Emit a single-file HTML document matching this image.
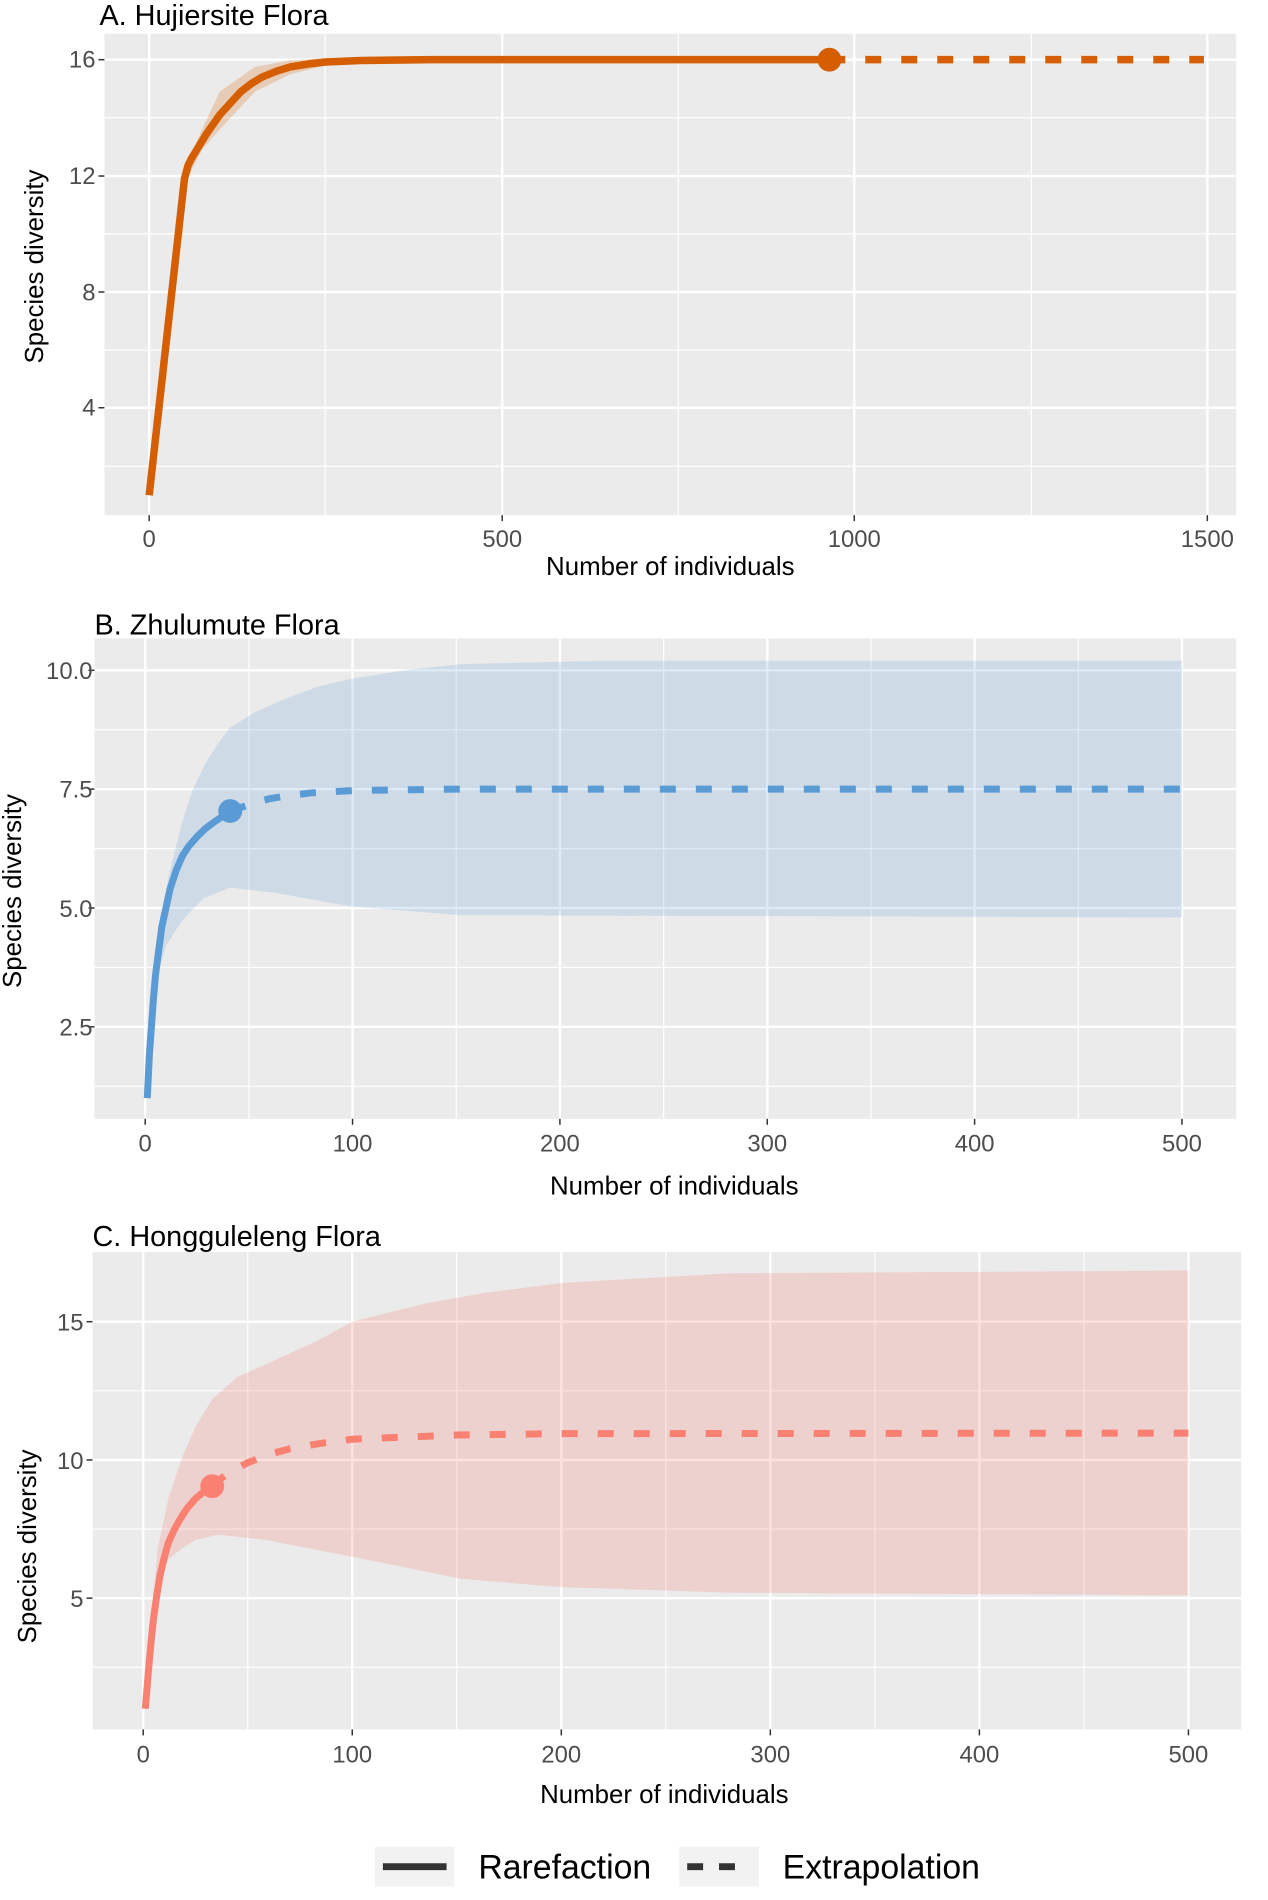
<!DOCTYPE html>
<html><head><meta charset="utf-8"><style>
body{margin:0;background:#fff;}
svg{display:block;font-family:"Liberation Sans",sans-serif;}
.tk{fill:#4D4D4D;font-size:24px;}
.at{fill:#000;font-size:26px;}
.ti{fill:#000;font-size:29px;}
.mj{stroke:#fff;stroke-width:2.4;}
.mn{stroke:#fff;stroke-width:1.2;}
.tm{stroke:#333;stroke-width:1.5;}
</style></head><body>
<svg width="1268" height="1900" viewBox="0 0 1268 1900">
<g transform="scale(0.9945)">
<!-- Panel A -->
<text class="ti" x="100" y="25">A. Hujiersite Flora</text>
<rect x="105" y="34" width="1138" height="484" fill="#EBEBEB"/>
<g class="mn"><line x1="105" x2="1243" y1="118.4" y2="118.4"/><line x1="105" x2="1243" y1="235.2" y2="235.2"/><line x1="105" x2="1243" y1="352" y2="352"/><line x1="105" x2="1243" y1="468.8" y2="468.8"/>
<line x1="327" x2="327" y1="34" y2="518"/><line x1="682" x2="682" y1="34" y2="518"/><line x1="1037" x2="1037" y1="34" y2="518"/></g>
<g class="mj"><line x1="105" x2="1243" y1="60" y2="60"/><line x1="105" x2="1243" y1="177" y2="177"/><line x1="105" x2="1243" y1="293.6" y2="293.6"/><line x1="105" x2="1243" y1="410" y2="410"/>
<line x1="150" x2="150" y1="34" y2="518"/><line x1="505" x2="505" y1="34" y2="518"/><line x1="859" x2="859" y1="34" y2="518"/><line x1="1214" x2="1214" y1="34" y2="518"/></g>
<g class="tm"><line x1="99" x2="105" y1="60" y2="60"/><line x1="99" x2="105" y1="177" y2="177"/><line x1="99" x2="105" y1="293.6" y2="293.6"/><line x1="99" x2="105" y1="410" y2="410"/>
<line x1="150" x2="150" y1="518" y2="524"/><line x1="505" x2="505" y1="518" y2="524"/><line x1="859" x2="859" y1="518" y2="524"/><line x1="1214" x2="1214" y1="518" y2="524"/></g>
<g class="tk" text-anchor="end"><text x="96" y="68">16</text><text x="96" y="185">12</text><text x="96" y="302">8</text><text x="96" y="418">4</text></g>
<g class="tk" text-anchor="middle"><text x="150" y="550">0</text><text x="505" y="550">500</text><text x="859" y="550">1000</text><text x="1214" y="550">1500</text></g>
<text class="at" text-anchor="middle" x="674" y="578">Number of individuals</text>
<text class="at" text-anchor="middle" transform="translate(43,268) rotate(-90)">Species diversity</text>
<g transform="translate(150,527.2) scale(0.7094,-29.2)">
<path fill="rgba(213,94,0,0.22)" d="M50,11.7 L50,12.2 L75,13.6 L100,14.9 L150,15.75 L200,15.98 L250,16.05 L350,16.03 L500,16 L964,16 L964,16 L500,15.99 L350,15.95 L300,15.93 L250,15.8 L200,15.5 L150,14.9 L100,13.6 L75,12.9 Z"/>
<path fill="none" stroke="#D55E00" stroke-width="7.5" vector-effect="non-scaling-stroke" stroke-linejoin="round" d="M0,1 L50,11.9 L55,12.35 L60,12.6 L70,13.0 L80,13.4 L90,13.75 L100,14.1 L115,14.5 L130,14.9 L145,15.18 L160,15.4 L180,15.6 L200,15.75 L225,15.85 L250,15.92 L300,15.97 L400,16 L964,16"/>
<path fill="none" stroke="#D55E00" stroke-width="7.5" vector-effect="non-scaling-stroke" stroke-dasharray="16 20" d="M964,16 L1495,16"/>
</g>
<circle cx="834" cy="60" r="12" fill="#D55E00"/>

<!-- Panel B -->
<text class="ti" x="95" y="638">B. Zhulumute Flora</text>
<rect x="95" y="642" width="1148" height="483" fill="#EBEBEB"/>
<g class="mn"><line x1="95" x2="1243" y1="733.8" y2="733.8"/><line x1="95" x2="1243" y1="853.3" y2="853.3"/><line x1="95" x2="1243" y1="972.8" y2="972.8"/><line x1="95" x2="1243" y1="1092.3" y2="1092.3"/>
<line x1="250.3" x2="250.3" y1="642" y2="1125"/><line x1="458.8" x2="458.8" y1="642" y2="1125"/><line x1="667.3" x2="667.3" y1="642" y2="1125"/><line x1="875.8" x2="875.8" y1="642" y2="1125"/><line x1="1084.3" x2="1084.3" y1="642" y2="1125"/></g>
<g class="mj"><line x1="95" x2="1243" y1="674" y2="674"/><line x1="95" x2="1243" y1="793.5" y2="793.5"/><line x1="95" x2="1243" y1="913" y2="913"/><line x1="95" x2="1243" y1="1032.5" y2="1032.5"/>
<line x1="146" x2="146" y1="642" y2="1125"/><line x1="354.5" x2="354.5" y1="642" y2="1125"/><line x1="563" x2="563" y1="642" y2="1125"/><line x1="771.5" x2="771.5" y1="642" y2="1125"/><line x1="980" x2="980" y1="642" y2="1125"/><line x1="1188.5" x2="1188.5" y1="642" y2="1125"/></g>
<g class="tm"><line x1="89" x2="95" y1="674" y2="674"/><line x1="89" x2="95" y1="793.5" y2="793.5"/><line x1="89" x2="95" y1="913" y2="913"/><line x1="89" x2="95" y1="1032.5" y2="1032.5"/>
<line x1="146" x2="146" y1="1125" y2="1131"/><line x1="354.5" x2="354.5" y1="1125" y2="1131"/><line x1="563" x2="563" y1="1125" y2="1131"/><line x1="771.5" x2="771.5" y1="1125" y2="1131"/><line x1="980" x2="980" y1="1125" y2="1131"/><line x1="1188.5" x2="1188.5" y1="1125" y2="1131"/></g>
<g class="tk" text-anchor="end"><text x="93" y="683">10.0</text><text x="93" y="802">7.5</text><text x="93" y="922">5.0</text><text x="93" y="1041">2.5</text></g>
<g class="tk" text-anchor="middle"><text x="146" y="1158">0</text><text x="354.5" y="1158">100</text><text x="563" y="1158">200</text><text x="771.5" y="1158">300</text><text x="980" y="1158">400</text><text x="1188.5" y="1158">500</text></g>
<text class="at" text-anchor="middle" x="678" y="1201">Number of individuals</text>
<text class="at" text-anchor="middle" transform="translate(21,896) rotate(-90)">Species diversity</text>
<g transform="translate(146,1152) scale(2.085,-47.8)">
<path fill="rgba(91,155,213,0.2)" d="M1,1 L4.7,3.7 L8,4.9 L11.7,5.74 L17.5,6.76 L23,7.5 L29,8.04 L35,8.45 L41,8.8 L53,9.12 L67,9.39 L83,9.65 L99,9.82 L125,10.0 L152,10.13 L222,10.2 L500,10.2 L500,4.8 L152,4.85 L99,5.03 L64,5.31 L41,5.43 L28,5.2 L17.5,4.72 L10,4.2 L4.7,3.44 Z"/>
<path fill="none" stroke="#5B9BD5" stroke-width="7" vector-effect="non-scaling-stroke" stroke-linejoin="round" d="M1,1 L2,1.9 L3,2.5 L4,3.1 L5,3.6 L6.5,4.1 L8,4.6 L10,5.0 L12,5.4 L15,5.8 L18,6.1 L21,6.3 L25,6.5 L29,6.67 L33,6.8 L37,6.92 L41,7.04"/>
<path fill="none" stroke="#5B9BD5" stroke-width="7" vector-effect="non-scaling-stroke" stroke-dasharray="16 20" d="M41,7.04 L50,7.17 L60,7.3 L70,7.37 L80,7.42 L100,7.47 L150,7.5 L500,7.5"/>
</g>
<circle cx="231.5" cy="815.5" r="12" fill="#5B9BD5"/>

<!-- Panel C -->
<text class="ti" x="93" y="1253">C. Hongguleleng Flora</text>
<rect x="93" y="1259" width="1155" height="480" fill="#EBEBEB"/>
<g class="mn"><line x1="93" x2="1248" y1="1398.5" y2="1398.5"/><line x1="93" x2="1248" y1="1537.5" y2="1537.5"/><line x1="93" x2="1248" y1="1676.5" y2="1676.5"/>
<line x1="249.1" x2="249.1" y1="1259" y2="1739"/><line x1="459.3" x2="459.3" y1="1259" y2="1739"/><line x1="669.5" x2="669.5" y1="1259" y2="1739"/><line x1="879.7" x2="879.7" y1="1259" y2="1739"/><line x1="1089.9" x2="1089.9" y1="1259" y2="1739"/></g>
<g class="mj"><line x1="93" x2="1248" y1="1329" y2="1329"/><line x1="93" x2="1248" y1="1468" y2="1468"/><line x1="93" x2="1248" y1="1607" y2="1607"/>
<line x1="144" x2="144" y1="1259" y2="1739"/><line x1="354.2" x2="354.2" y1="1259" y2="1739"/><line x1="564.4" x2="564.4" y1="1259" y2="1739"/><line x1="774.6" x2="774.6" y1="1259" y2="1739"/><line x1="984.8" x2="984.8" y1="1259" y2="1739"/><line x1="1195" x2="1195" y1="1259" y2="1739"/></g>
<g class="tm"><line x1="87" x2="93" y1="1329" y2="1329"/><line x1="87" x2="93" y1="1468" y2="1468"/><line x1="87" x2="93" y1="1607" y2="1607"/>
<line x1="144" x2="144" y1="1739" y2="1745"/><line x1="354.2" x2="354.2" y1="1739" y2="1745"/><line x1="564.4" x2="564.4" y1="1739" y2="1745"/><line x1="774.6" x2="774.6" y1="1739" y2="1745"/><line x1="984.8" x2="984.8" y1="1739" y2="1745"/><line x1="1195" x2="1195" y1="1739" y2="1745"/></g>
<g class="tk" text-anchor="end"><text x="84" y="1338">15</text><text x="84" y="1477">10</text><text x="84" y="1616">5</text></g>
<g class="tk" text-anchor="middle"><text x="144" y="1772">0</text><text x="354.2" y="1772">100</text><text x="564.4" y="1772">200</text><text x="774.6" y="1772">300</text><text x="984.8" y="1772">400</text><text x="1195" y="1772">500</text></g>
<text class="at" text-anchor="middle" x="668" y="1813">Number of individuals</text>
<text class="at" text-anchor="middle" transform="translate(36,1555) rotate(-90)">Species diversity</text>
<g transform="translate(144,1746) scale(2.102,-27.8)">
<path fill="rgba(248,118,109,0.22)" d="M1,1 L4,4.5 L7,6.8 L12,8.6 L18.6,10.1 L25,11.2 L33,12.2 L45,13.0 L60,13.5 L83,14.3 L100,15 L135,15.66 L164,16.05 L200,16.4 L280,16.75 L500,16.85 L500,5.1 L280,5.2 L200,5.4 L152,5.7 L100,6.5 L59,7.1 L36,7.3 L25,7.1 L18.6,6.8 L12,6.4 L7,5.6 L4,4 Z"/>
<path fill="none" stroke="#FA8072" stroke-width="7" vector-effect="non-scaling-stroke" stroke-linejoin="round" d="M1,1 L2,1.9 L3,2.8 L4,3.6 L5,4.3 L6.5,5.1 L8,5.8 L10,6.45 L12,7.0 L15,7.5 L18,7.9 L21,8.25 L25,8.6 L29,8.85 L33,9.05"/>
<path fill="none" stroke="#FA8072" stroke-width="7" vector-effect="non-scaling-stroke" stroke-dasharray="16 20" d="M33,9.05 L40,9.5 L50,9.9 L60,10.2 L70,10.4 L85,10.6 L100,10.75 L150,10.9 L200,10.95 L500,10.97"/>
</g>
<circle cx="213.4" cy="1494.4" r="12" fill="#FA8072"/>

<!-- Legend -->
<rect x="377" y="1857" width="80" height="40" fill="#F2F2F2"/>
<line x1="385" x2="449" y1="1877" y2="1877" stroke="#333" stroke-width="7"/>
<text x="481" y="1889" font-size="34" fill="#000">Rarefaction</text>
<rect x="683" y="1857" width="80" height="40" fill="#F2F2F2"/>
<line x1="691" x2="755" y1="1877" y2="1877" stroke="#333" stroke-width="7" stroke-dasharray="16 16"/>
<text x="787" y="1889" font-size="34" fill="#000">Extrapolation</text>
</g>
</svg>
</body></html>
